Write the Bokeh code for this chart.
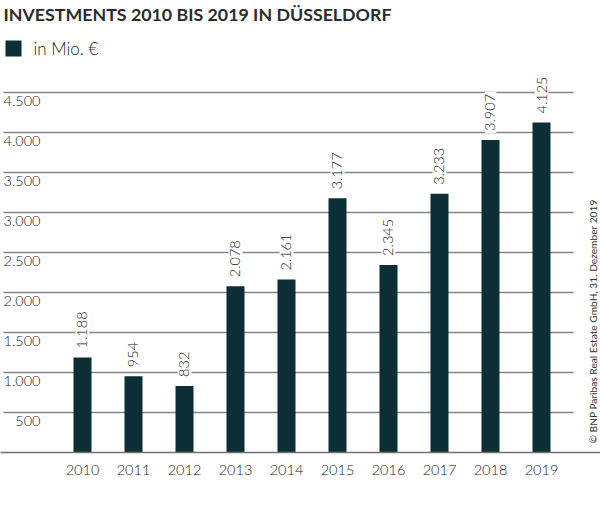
import math
from bokeh.plotting import figure
from bokeh.models import ColumnDataSource, FixedTicker, LabelSet
from bokeh.core.properties import value
from bokeh.embed import file_html
from bokeh.resources import INLINE

# ---- data ----
years = ["2010", "2011", "2012", "2013", "2014", "2015", "2016", "2017", "2018", "2019"]
investments = [1188, 954, 832, 2078, 2161, 3177, 2345, 3233, 3907, 4125]
value_labels = ["1.188", "954", "832", "2.078", "2.161", "3.177", "2.345", "3.233", "3.907", "4.125"]
y_ticks = [500, 1000, 1500, 2000, 2500, 3000, 3500, 4000, 4500]
y_tick_labels = ["500", "1.000", "1.500", "2.000", "2.500", "3.000", "3.500", "4.000", "4.500"]
title_text = "INVESTMENTS 2010 BIS 2019 IN DÜSSELDORF"
legend_text = "in Mio. €"
source_text = "© BNP Paribas Real Estate GmbH, 31. Dezember 2019"

# ---- styling / layout ----
W, H = 600, 514
BOTTOM = 62
FRAME_H = H - BOTTOM
PX_PER_CAT = 51.0
FIRST_CAT_PX = 82.0
UNITS_PER_PX = 12.5
BAR_COLOR = "#0c2e37"
GRID_COLOR = "#858585"
TEXT_COLOR = "#333333"
LIGHT_TEXT_COLOR = "#1c1c1c"
FONT = "Lato"
LIGHT_FONT = "Lato Light, Lato"

x_start = -FIRST_CAT_PX / PX_PER_CAT
x_end = x_start + W / PX_PER_CAT
y_end = FRAME_H * UNITS_PER_PX


def px_x(px):
    return x_start + px / PX_PER_CAT


def px_y(py):
    return (FRAME_H - py) * UNITS_PER_PX


xs = list(range(len(years)))
src = ColumnDataSource(dict(x=xs, top=investments, lab=value_labels))

p = figure(width=W, height=H, x_range=(x_start, x_end), y_range=(0, y_end),
           output_backend="svg", toolbar_location=None, y_axis_location=None,
           min_border=0, min_border_bottom=BOTTOM)
p.outline_line_color = None
p.xgrid.visible = False
p.ygrid.visible = False

# grid lines
p.segment(x0=[px_x(3)] * len(y_ticks), x1=[px_x(573)] * len(y_ticks),
          y0=y_ticks, y1=y_ticks, line_color=GRID_COLOR, line_width=1.4)

# y tick labels under grid lines
p.text(x=[px_x(40)] * len(y_ticks), y=[t - 3 * UNITS_PER_PX for t in y_ticks],
       text=y_tick_labels, text_align="right", text_baseline="top",
       text_font=value(LIGHT_FONT), text_font_size="14.5px", text_color=LIGHT_TEXT_COLOR)

# bars
p.vbar(x="x", top="top", width=18 / PX_PER_CAT, bottom=0, source=src,
       fill_color=BAR_COLOR, line_color=None)

# value labels
labels = LabelSet(x="x", y="top", text="lab", source=src, angle=math.pi / 2,
                  text_align="left", text_baseline="middle", y_offset=9,
                  text_font=value(LIGHT_FONT), text_font_size="14.5px",
                  text_color=LIGHT_TEXT_COLOR,
                  background_fill_color="white", border_line_color="white",
                  border_line_width=4)
p.add_layout(labels)

# x axis
ax = p.xaxis[0]
ax.ticker = FixedTicker(ticks=xs)
ax.major_label_overrides = {i: y for i, y in zip(xs, years)}
ax.major_tick_line_color = None
ax.minor_tick_line_color = None
ax.major_label_standoff = 6
ax.axis_line_color = "#707070"
ax.axis_line_width = 1.5
ax.major_label_text_font = LIGHT_FONT
ax.major_label_text_font_size = "14.5px"
ax.major_label_text_color = LIGHT_TEXT_COLOR

# title
p.text(x=[px_x(3)], y=[px_y(2)], text=[title_text], text_baseline="top",
       text_font=value(FONT), text_font_style="bold", text_font_size="17.8px",
       text_color="#2b2b2b")

# legend
p.scatter(x=[px_x(13)], y=[px_y(48)], marker="square", size=16,
          fill_color=BAR_COLOR, line_color=None)
p.text(x=[px_x(33)], y=[px_y(48)], text=[legend_text], text_baseline="middle",
       text_font=value(LIGHT_FONT), text_font_size="17px", text_color=LIGHT_TEXT_COLOR)

# source note
p.text(x=[px_x(592)], y=[px_y(443)], text=[source_text], angle=math.pi / 2,
       text_align="left", text_baseline="middle",
       text_font=value(FONT), text_font_size="10.2px", text_color=TEXT_COLOR)

open("out.html", "w").write(file_html(p, INLINE))
